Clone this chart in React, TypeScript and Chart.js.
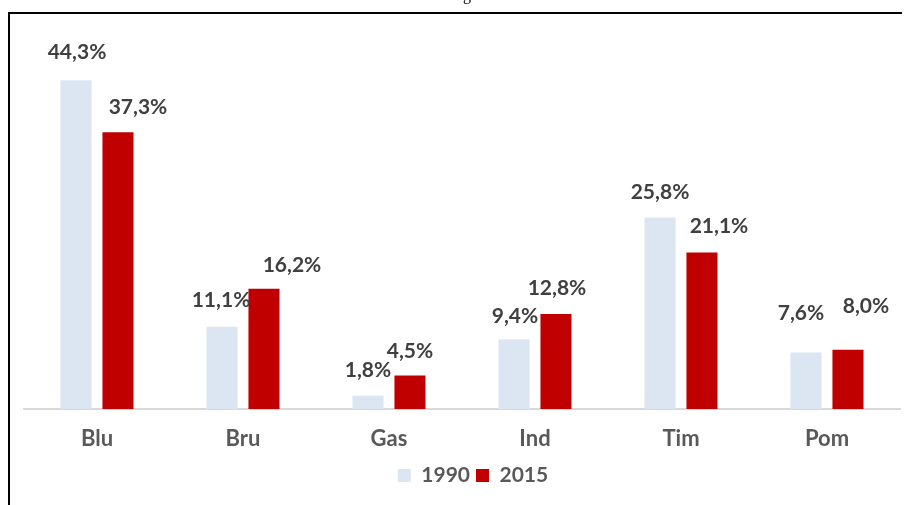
import React, { useEffect, useRef } from "react";
import { Chart, registerables } from "chart.js";

Chart.register(...registerables);

const categories = ["Blu", "Bru", "Gas", "Ind", "Tim", "Pom"];
const series1990 = [44.3, 11.1, 1.8, 9.4, 25.8, 7.6];
const series2015 = [37.3, 16.2, 4.5, 12.8, 21.1, 8.0];
const seriesNames = ["1990", "2015"];

// manual label placement (dx from bar centre, dy above bar top), as in the reference
const labelOffsets1990 = [[1, 28], [-1, 26], [0, 25], [1, 23], [0, 25], [-5, 39]];
const labelOffsets2015 = [[20, 25], [28, 24], [0, 24], [1, 26], [17, 26], [18, 43]];

const FONT = "Lato, 'Open Sans', sans-serif";

const labelPlugin = {
  id: "valueLabels",
  afterLayout(chart: any) {
    if (chart.legend) {
      chart.legend.left += 11;
      chart.legend.right += 11;
    }
  },
  afterDatasetsDraw(chart: any) {
    const ctx = chart.ctx;
    ctx.save();
    ctx.font = `bold 21px ${FONT}`;
    ctx.fillStyle = "#404040";
    ctx.textAlign = "center";
    ctx.textBaseline = "middle";
    const offsets = [labelOffsets1990, labelOffsets2015];
    chart.data.datasets.forEach((ds: any, di: number) => {
      const meta = chart.getDatasetMeta(di);
      meta.data.forEach((bar: any, i: number) => {
        const v = ds.data[i] as number;
        const txt = v.toFixed(1).replace(".", ",") + "%";
        const [dx, dy] = offsets[di][i];
        ctx.fillText(txt, bar.x + dx, bar.y - dy);
      });
    });
    ctx.restore();
  },
};

export default function App() {
  const ref = useRef<HTMLCanvasElement>(null);
  useEffect(() => {
    if (!ref.current) return;
    const chart = new Chart(ref.current, {
      type: "bar",
      data: {
        labels: categories,
        datasets: [
          {
            label: seriesNames[0],
            data: series1990,
            backgroundColor: "#DCE6F2",
            categoryPercentage: 0.575,
            barPercentage: 0.74,
          },
          {
            label: seriesNames[1],
            data: series2015,
            backgroundColor: "#C00000",
            categoryPercentage: 0.575,
            barPercentage: 0.74,
          },
        ],
      },
      options: {
        responsive: false,
        animation: false,
        layout: { padding: { left: 14, right: 10, top: 24, bottom: 9 } },
        plugins: {
          legend: {
            position: "bottom",
            labels: {
              boxWidth: 13,
              boxHeight: 13,
              padding: 6,
              color: "#595959",
              font: { family: FONT, size: 21, weight: "bold" },
            },
          },
          tooltip: { enabled: false },
          title: { display: false },
        },
        scales: {
          x: {
            grid: { display: false },
            border: { display: true, color: "#D9D9D9", width: 2 },
            ticks: {
              color: "#595959",
              padding: 9,
              font: { family: FONT, size: 22, weight: "bold" },
            },
            afterFit(scale: any) {
              scale.height = 50;
            },
          },
          y: {
            display: false,
            min: 0,
            max: 50,
          },
        },
      },
      plugins: [labelPlugin],
    });
    return () => chart.destroy();
  }, []);

  return (
    <div style={{ position: "relative", width: 902, height: 497 }}>
      <div
        style={{
          position: "fixed",
          top: -13,
          left: 463,
          fontSize: 16,
          lineHeight: "16px",
          fontFamily: "'Liberation Serif', serif",
        }}
      >
        g
      </div>
      <div
        style={{
          position: "absolute",
          left: 0,
          top: 4,
          width: 902,
          height: 493,
          borderLeft: "2px solid #000",
          borderTop: "2px solid #000",
          boxSizing: "border-box",
        }}
      />
      <canvas
        ref={ref}
        width={900}
        height={491}
        style={{ position: "absolute", left: 2, top: 6, display: "block" }}
      />
    </div>
  );
}
